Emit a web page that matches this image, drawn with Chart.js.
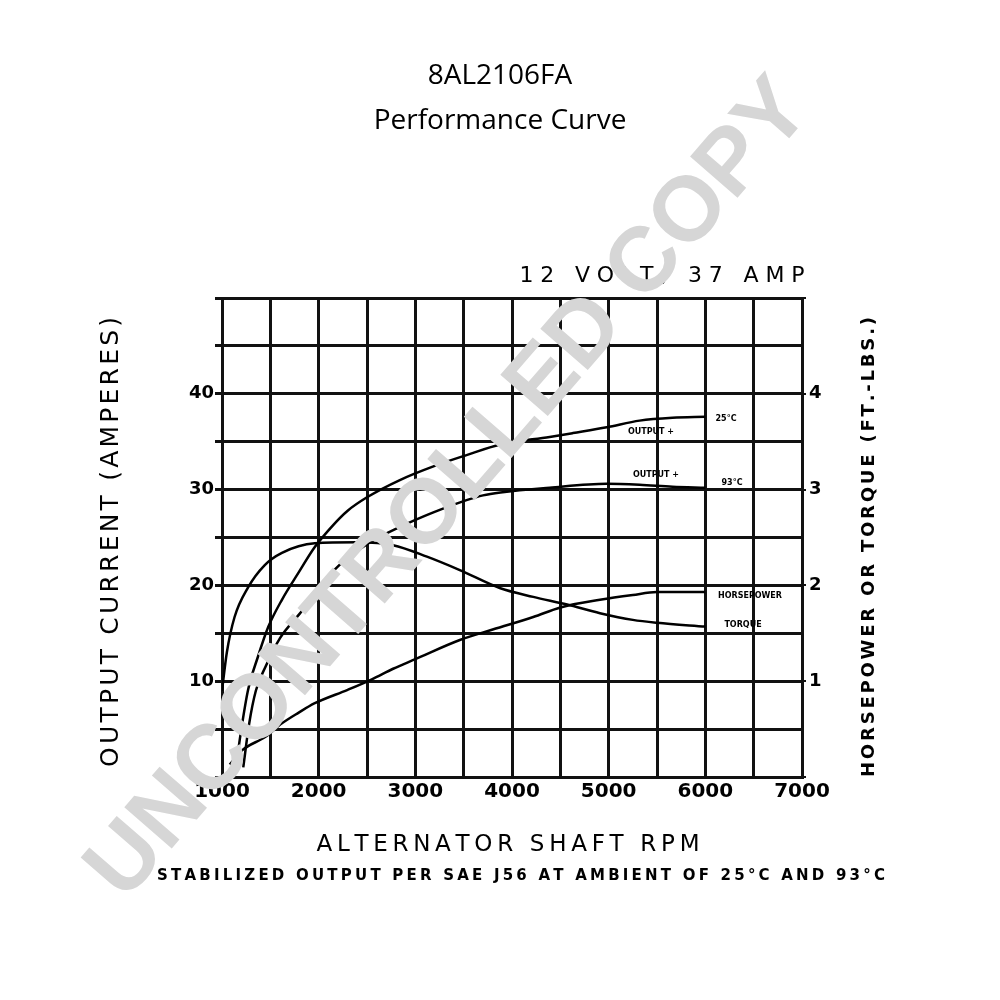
<!DOCTYPE html>
<html>
<head>
<meta charset="utf-8">
<script src="https://cdn.jsdelivr.net/npm/chart.js@4"></script>
<style>
  body { margin: 0; background: #fff; }
  canvas { display: block; }
</style>
</head>
<body>
<canvas id="chart" width="1000" height="1000"></canvas>
<script>
// values
const out25Rpm = [1150, 1200, 1270, 1370, 1480, 1620, 1790, 1960, 2150, 2300, 2500, 2840, 3180, 3530, 3880, 4390, 4630, 4980, 5320, 5660, 6000];
const out25Amps = [1.5, 5, 9.1, 12.5, 15.7, 18.5, 21.3, 24.0, 26.3, 27.8, 29.2, 31.0, 32.4, 33.6, 34.7, 35.5, 35.9, 36.5, 37.2, 37.5, 37.6];

const out93Rpm = [1220, 1280, 1350, 1450, 1600, 1800, 2000, 2150, 2500, 2840, 3180, 3530, 3700, 3880, 4390, 4980, 5320, 5660, 6000];
const out93Amps = [1, 5.5, 9, 11.5, 14.5, 17, 19.5, 21.5, 24.3, 26.1, 27.6, 28.9, 29.4, 29.7, 30.2, 30.6, 30.5, 30.3, 30.2];

const hpRpm = [1080, 1210, 1450, 1620, 1790, 1960, 2300, 2550, 2770, 3000, 3460, 3800, 4220, 4500, 4910, 5250, 5500, 6000];
const hpValues = [0.13, 0.28, 0.42, 0.56, 0.67, 0.77, 0.91, 1.02, 1.13, 1.23, 1.43, 1.54, 1.67, 1.77, 1.85, 1.90, 1.93, 1.93];

const torqueRpm = [1000, 1050, 1130, 1270, 1440, 1620, 1960, 2400, 2770, 3120, 3460, 3880, 4220, 4570, 4910, 5250, 5500, 6000];
const torqueValues = [0.9, 1.3, 1.67, 1.98, 2.21, 2.34, 2.44, 2.45, 2.42, 2.30, 2.16, 1.97, 1.88, 1.80, 1.71, 1.64, 1.61, 1.57];

const ampTicks = [10, 20, 30, 40];
const hpTicks = [1, 2, 3, 4];
const rpmTicks = [1000, 2000, 3000, 4000, 5000, 6000, 7000];

const curveLabels = [
  { text: 'OUTPUT +', x: 651, y: 432 },
  { text: '25°C', x: 726, y: 419 },
  { text: 'OUTPUT +', x: 656, y: 475 },
  { text: '93°C', x: 732, y: 483 },
  { text: 'HORSEPOWER', x: 750, y: 596 },
  { text: 'TORQUE', x: 743, y: 625 }
];

const toPoints = (xs, ys) => xs.map((x, i) => ({ x, y: ys[i] }));

function spaced(ctx, text, cx, cy, width) {
  const chars = [...text];
  const widths = chars.map(c => ctx.measureText(c).width);
  const total = widths.reduce((a, b) => a + b, 0);
  const gap = (width - total) / (chars.length - 1);
  let x = cx - width / 2;
  ctx.textAlign = 'left';
  chars.forEach((c, i) => {
    ctx.fillText(c, x, cy);
    x += widths[i] + gap;
  });
}

const sheetText = {
  id: 'sheetText',
  afterDraw(chart) {
    const ctx = chart.ctx;
    ctx.save();
    ctx.fillStyle = '#000';
    ctx.textBaseline = 'middle';

    ctx.textAlign = 'center';
    ctx.font = '28px "Open Sans"';
    ctx.fillText('8AL2106FA', 500, 76);
    ctx.fillText('Performance Curve', 500, 121);

    ctx.font = '22px "DejaVu Sans"';
    spaced(ctx, '12 VOLT, 37 AMP', 662, 276, 285);

    ctx.font = '23px "DejaVu Sans"';
    spaced(ctx, 'ALTERNATOR SHAFT RPM', 508, 845, 383);

    ctx.font = 'bold 15px "DejaVu Sans"';
    spaced(ctx, 'STABILIZED OUTPUT PER SAE J56 AT AMBIENT OF 25°C AND 93°C', 521, 876, 728);

    ctx.save();
    ctx.translate(111, 542);
    ctx.rotate(-Math.PI / 2);
    ctx.font = '25px "DejaVu Sans"';
    spaced(ctx, 'OUTPUT CURRENT (AMPERES)', 0, 0, 450);
    ctx.restore();

    ctx.save();
    ctx.translate(869, 547);
    ctx.rotate(-Math.PI / 2);
    ctx.font = 'bold 18px "DejaVu Sans"';
    spaced(ctx, 'HORSEPOWER OR TORQUE (FT.-LBS.)', 0, 0, 460);
    ctx.restore();

    ctx.font = 'bold 8px "DejaVu Sans"';
    ctx.textAlign = 'center';
    curveLabels.forEach(l => ctx.fillText(l.text, l.x, l.y));

    // watermark stamped over the sheet
    ctx.save();
    ctx.translate(450, 490);
    ctx.rotate(-49 * Math.PI / 180);
    ctx.fillStyle = 'rgb(214,214,214)';
    ctx.font = 'bold 90px "Liberation Sans"';
    const w = ctx.measureText('UNCONTROLLED COPY').width;
    const size = 90 * 1050 / w;
    ctx.font = 'bold ' + size.toFixed(1) + 'px "Liberation Sans"';
    ctx.textAlign = 'center';
    ctx.fillText('UNCONTROLLED COPY', 0, 0);
    ctx.restore();

    ctx.restore();
  }
};

const line = (data, yAxisID) => ({
  data,
  yAxisID,
  borderColor: '#000',
  borderWidth: 2.5,
  pointRadius: 0,
  fill: false,
  cubicInterpolationMode: 'monotone'
});

new Chart(document.getElementById('chart'), {
  type: 'line',
  data: {
    datasets: [
      line(toPoints(out25Rpm, out25Amps), 'y'),
      line(toPoints(out93Rpm, out93Amps), 'y'),
      line(toPoints(hpRpm, hpValues), 'y2'),
      line(toPoints(torqueRpm, torqueValues), 'y2')
    ]
  },
  options: {
    responsive: false,
    animation: false,
    layout: { padding: { top: 298, left: 0, right: 0, bottom: 0 } },
    plugins: { legend: { display: false }, tooltip: { enabled: false } },
    scales: {
      x: {
        type: 'linear',
        min: 1000,
        max: 7000,
        afterFit: s => { s.height = 223; },
        grid: { color: '#111', lineWidth: 3, drawTicks: false },
        border: { color: '#111', width: 3 },
        ticks: {
          stepSize: 500,
          autoSkip: false,
          maxRotation: 0,
          padding: 3,
          color: '#000',
          font: { family: 'DejaVu Sans', weight: 'bold', size: 20 },
          callback: v => rpmTicks.includes(v) ? String(v) : ''
        }
      },
      y: {
        position: 'left',
        min: 0,
        max: 50,
        afterFit: s => { s.width = 222; },
        grid: { color: '#111', lineWidth: 3, tickLength: 7 },
        border: { color: '#111', width: 3 },
        ticks: {
          stepSize: 5,
          padding: 1,
          color: '#000',
          font: { family: 'DejaVu Sans', weight: 'bold', size: 18 },
          callback: v => ampTicks.includes(v) ? String(v) : ''
        }
      },
      y2: {
        position: 'right',
        min: 0,
        max: 5,
        afterFit: s => { s.width = 198; },
        grid: { drawOnChartArea: false, color: '#111', lineWidth: 2, tickLength: 4 },
        border: { color: '#111', width: 3 },
        ticks: {
          stepSize: 1,
          padding: 3,
          color: '#000',
          font: { family: 'DejaVu Sans', weight: 'bold', size: 18 },
          callback: v => hpTicks.includes(v) ? String(v) : ''
        }
      }
    }
  },
  plugins: [sheetText]
});
</script>
</body>
</html>
